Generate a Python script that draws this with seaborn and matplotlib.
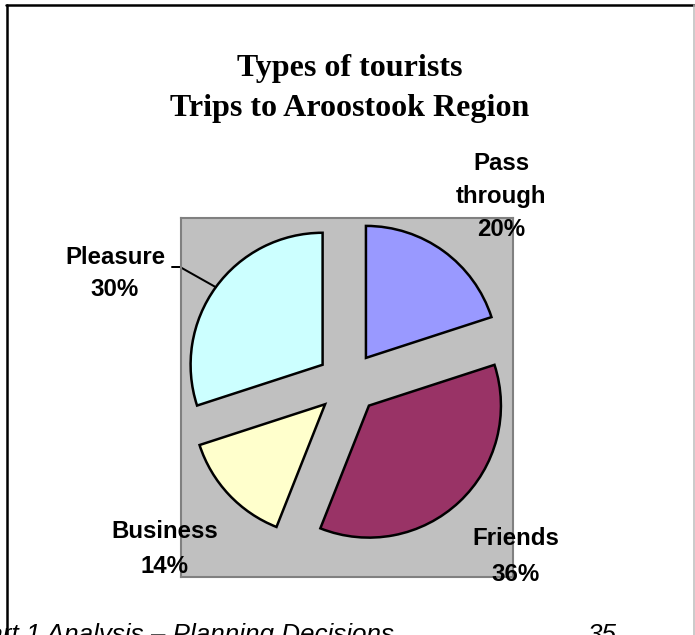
import matplotlib
matplotlib.use("Agg")
import matplotlib.pyplot as plt
from matplotlib.lines import Line2D
import numpy as np
import seaborn as sns

# ---- data ----
categories = ["Pass\nthrough", "Friends", "Business", "Pleasure"]
shares = [20, 36, 14, 30]
colors_hex = ["#9999FF", "#993366", "#FFFFCC", "#CCFFFF"]
title_lines = ["Types of tourists", "Trips to Aroostook Region"]
footer_left = "Part 1 Analysis \u2013 Planning Decisions"
footer_right = "35"

sns.set_theme(style="white")
plt.rcParams["font.family"] = ["Liberation Sans", "DejaVu Sans"]
plt.rcParams["text.color"] = "black"

W, H, DPI = 695, 635, 100
fig = plt.figure(figsize=(W / DPI, H / DPI), dpi=DPI)
fig.patch.set_facecolor("white")

def px(n):  # pixels -> points
    return n * 72.0 / DPI

# plot area (gray box) in pixels
L, R, T, B = 181, 513, 218, 577
ax = fig.add_axes([L / W, 1 - B / H, (R - L) / W, (B - T) / H])
ax.set_facecolor("#C0C0C0")
for s in ax.spines.values():
    s.set_color("#808080")
    s.set_linewidth(1.5)
    s.set_visible(True)

palette = sns.color_palette(colors_hex)
wedges, _ = ax.pie(
    shares,
    colors=palette,
    startangle=90,
    counterclock=False,
    explode=[0.235] * len(shares),
    radius=1.0,
    frame=True,
    wedgeprops=dict(edgecolor="black", linewidth=px(2.5)),
)

# map data to the pixel geometry: centre at (347.7, 384) px, radius 132 px
cx, cy, rpx = 347.7, 383.0, 132.0
ax.set_aspect("auto")
ax.set_xlim(-(cx - L) / rpx, (R - cx) / rpx)
ax.set_ylim(-(B - cy) / rpx, (cy - T) / rpx)
ax.set_xticks([])
ax.set_yticks([])

def d(xp, yp):
    return ((xp - cx) / rpx, (cy - yp) / rpx)

lbl_font = dict(fontsize=px(24), fontweight="bold", color="black",
                ha="center", va="baseline", clip_on=False)
labels = [f"{c}\n{v}%" for c, v in zip(categories, shares)]
# (x centre, baseline of last line, line spacing)
label_pos = [(501, 236, 1.55), (516, 581, 1.7), (164.5, 573, 1.65), (115, 296, 1.5)]
for lab, (xp, yp, ls) in zip(labels, label_pos):
    ax.text(*d(xp, yp), lab, linespacing=ls, **lbl_font)

# leader line for Pleasure: from label to middle of the wedge's arc
wp = wedges[3]
mid = np.deg2rad((wp.theta1 + wp.theta2) / 2)
ex = wp.center[0] + wp.r * np.cos(mid)
ey = wp.center[1] + wp.r * np.sin(mid)
sx, sy = d(172, 267)
kx, ky = d(180, 267)
ax.add_line(Line2D([sx, kx, ex], [sy, ky, ey], color="black",
                   linewidth=px(2), clip_on=False))

# title
fig.text(350 / W, 1 - 116 / H, "\n".join(title_lines),
         family=["Liberation Serif", "DejaVu Serif"], fontweight="bold",
         fontsize=px(32), ha="center", va="baseline", linespacing=1.5,
         color="black")

# outer frame
fig.add_artist(Line2D([6 / W, 694 / W], [1 - 5 / H, 1 - 5 / H],
                      transform=fig.transFigure, color="black", linewidth=px(2.5)))
fig.add_artist(Line2D([7 / W, 7 / W], [1 - 5 / H, 0],
                      transform=fig.transFigure, color="black", linewidth=px(2.5)))
fig.add_artist(Line2D([694 / W, 694 / W], [1 - 5 / H, 0],
                      transform=fig.transFigure, color="#BBBBBB", linewidth=px(1.5)))

# footer (cut at the page edge, as on the source page)
fig.text(-29 / W, 1 - 642 / H, footer_left, fontsize=px(26), style="italic",
         ha="left", va="baseline", color="black")
fig.text(587 / W, 1 - 642 / H, footer_right, fontsize=px(26), style="italic",
         ha="left", va="baseline", color="black")

fig.savefig("out.png", dpi=DPI)
